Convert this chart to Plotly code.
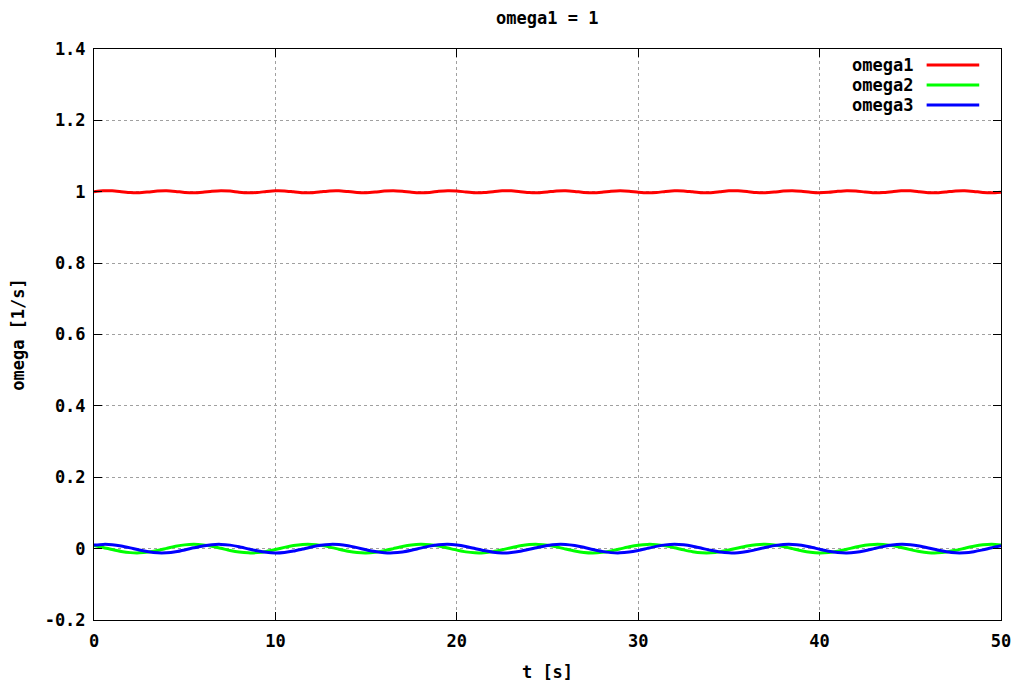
import plotly.graph_objects as go

t = [i * 0.5 for i in range(101)]

# omega1 deviation (units of 1e-4, added to 1)
omega1_dev = [2, 26, 26, 2, -24, -28, -6, 21, 29, 10, -18, -30, -14, 14, 30, 18, -11, -29, -21, 7,
              28, 24, -2, -26, -26, -2, 24, 28, 6, -21, -29, -10, 18, 30, 14, -15, -30, -18, 11, 29,
              21, -7, -28, -24, 3, 27, 26, 2, -24, -28, -6, 22, 29, 10, -18, -30, -14, 15, 30, 17,
              -11, -29, -21, 7, 28, 24, -3, -27, -26, -1, 25, 28, 6, -22, -29, -10, 19, 30, 14, -15,
              -30, -17, 11, 30, 20, -7, -28, -23, 3, 27, 26, 1, -25, -28, -5, 22, 29, 9, -19, -30, -13]
omega1 = [1 + v * 1e-4 for v in omega1_dev]

# omega2 (units of 1e-3)
omega2_milli = [8.5, 3.4, -2.5, -7.8, -11.2, -11.9, -9.6, -5.0, 0.8, 6.4, 10.5, 12.0, 10.5, 6.5, 0.9, -5.0,
                -9.6, -11.9, -11.2, -7.9, -2.6, 3.4, 8.5, 11.5, 11.7, 9.1, 4.2, -1.7, -7.2, -10.9, -12.0,
                -10.1, -5.7, 0.0, 5.8, 10.1, 12.0, 10.9, 7.2, 1.7, -4.2, -9.1, -11.7, -11.5, -8.4, -3.3,
                2.6, 7.9, 11.3, 11.9, 9.6, 4.9, -0.9, -6.5, -10.6, -12.0, -10.5, -6.4, -0.8, 5.1, 9.7,
                11.9, 11.2, 7.8, 2.4, -3.5, -8.6, -11.6, -11.7, -9.0, -4.1, 1.8, 7.3, 11.0, 12.0, 10.0,
                5.6, -0.1, -5.9, -10.2, -12.0, -10.8, -7.1, -1.6, 4.3, 9.2, 11.8, 11.5, 8.4, 3.2, -2.7,
                -8.0, -11.3, -11.8, -9.5, -4.8, 1.0, 6.6, 10.6, 12.0, 10.4]
omega2 = [v * 1e-3 for v in omega2_milli]

# omega3 (units of 1e-3)
omega3_milli = [9.9, 11.9, 11.1, 7.5, 2.0, -3.9, -8.8, -11.7, -11.6, -8.7, -3.7, 2.2, 7.6, 11.1, 11.9, 9.8,
                5.3, -0.6, -6.2, -10.4, -12.0, -10.6, -6.8, -1.1, 4.7, 9.4, 11.8, 11.3, 8.1, 2.8, -3.1,
                -8.3, -11.4, -11.8, -9.3, -4.4, 1.5, 7.0, 10.8, 12.0, 10.2, 6.0, 0.2, -5.5, -10.0, -12.0,
                -11.0, -7.4, -1.9, 4.0, 8.9, 11.7, 11.6, 8.6, 3.6, -2.4, -7.7, -11.2, -11.9, -9.7, -5.1,
                0.7, 6.3, 10.5, 12.0, 10.6, 6.7, 1.0, -4.8, -9.5, -11.9, -11.3, -8.0, -2.7, 3.2, 8.4,
                11.5, 11.8, 9.2, 4.3, -1.6, -7.1, -10.9, -12.0, -10.2, -5.9, -0.1, 5.6, 10.0, 12.0, 11.0,
                7.3, 1.8, -4.1, -9.0, -11.7, -11.5, -8.5, -3.5, 2.5, 7.8]
omega3 = [v * 1e-3 for v in omega3_milli]

series_names = ["omega1", "omega2", "omega3"]
series_values = [omega1, omega2, omega3]
series_colors = ["#ff0000", "#00ff00", "#0000ff"]

x_ticks = [0, 10, 20, 30, 40, 50]
x_tick_labels = ["0", "10", "20", "30", "40", "50"]
y_ticks = [-0.2, 0, 0.2, 0.4, 0.6, 0.8, 1.0, 1.2, 1.4]
y_tick_labels = ["-0.2", "0", "0.2", "0.4", "0.6", "0.8", "1", "1.2", "1.4"]

FONT = "DejaVu Sans Mono"
fsize = 17

fig = go.Figure()
for name, vals, col in zip(series_names, series_values, series_colors):
    fig.add_trace(go.Scatter(x=t, y=vals, mode="lines", name=name,
                             line=dict(color=col, width=3, shape="spline", smoothing=0.6),
                             showlegend=False))

# manual gnuplot-style legend (text, then line sample)
leg_y = [0.972, 0.937, 0.902]
for name, col, ly in zip(series_names, series_colors, leg_y):
    fig.add_annotation(xref="paper", yref="paper", x=0.905, y=ly, text=name,
                       showarrow=False, xanchor="right", yanchor="middle",
                       font=dict(family=FONT, size=fsize, color="black", weight="bold"))
    fig.add_shape(type="line", xref="paper", yref="paper", x0=0.918, x1=0.976, y0=ly, y1=ly,
                  line=dict(color=col, width=3))

axis_common = dict(
    showline=True, linecolor="black", linewidth=1, mirror="allticks",
    ticks="inside", ticklen=8, tickcolor="black", tickwidth=1,
    showgrid=True, gridcolor="#a0a0a0", griddash="dot", gridwidth=1,
    zeroline=False, automargin=False,
    tickfont=dict(family=FONT, size=fsize, color="black", weight="bold"),
)

fig.update_xaxes(range=[0, 50], tickvals=x_ticks, ticktext=x_tick_labels,
                 title=dict(text="t [s]", font=dict(family=FONT, size=fsize, color="black", weight="bold")),
                 ticklabelstandoff=6, **axis_common)
fig.update_yaxes(range=[-0.2, 1.4], tickvals=y_ticks, ticktext=y_tick_labels,
                 title=dict(text="omega [1/s]", font=dict(family=FONT, size=fsize, color="black", weight="bold")),
                 ticklabelstandoff=4, **axis_common)

fig.update_layout(
    width=1014, height=687,
    margin=dict(l=94, r=13, t=49, b=67),
    paper_bgcolor="white", plot_bgcolor="white",
    title=dict(text="omega1 = 1", x=0.5397, xanchor="center", y=1 - 18 / 687, yanchor="middle",
               font=dict(family=FONT, size=fsize, color="black", weight="bold")),
)

fig.write_html("out.html")
